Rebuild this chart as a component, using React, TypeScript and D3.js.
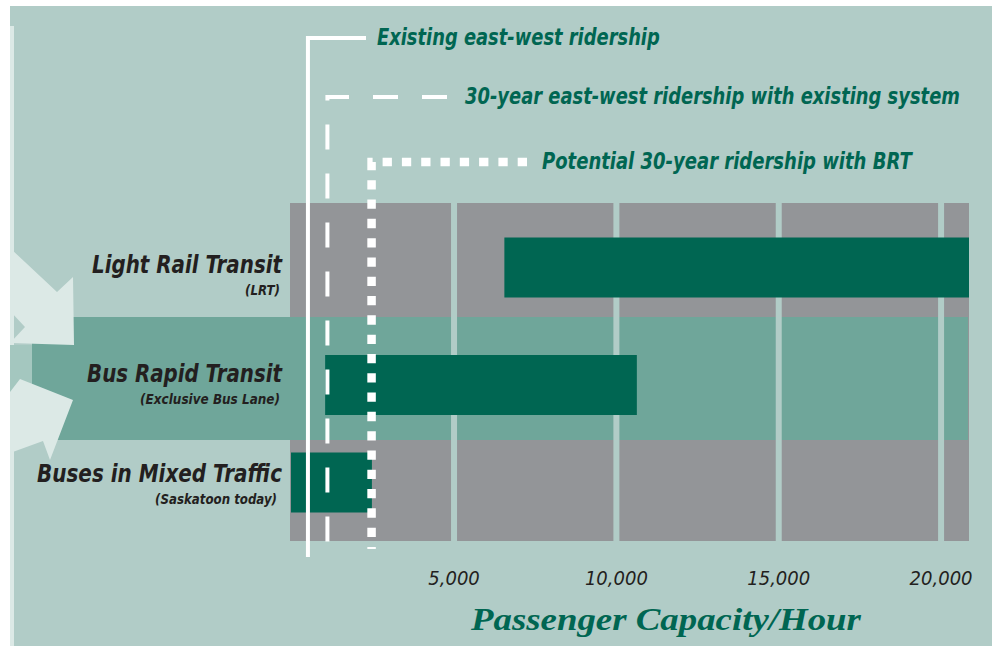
import React, { useLayoutEffect, useRef, useState } from "react";
import * as d3 from "d3";

const categories = ["Light Rail Transit", "Bus Rapid Transit", "Buses in Mixed Traffic"];
const subtitles = ["(LRT)", "(Exclusive Bus Lane)", "(Saskatoon today)"];
const rangeStart = [6550, 1030, 0];
const rangeEnd = [25000, 10630, 2470];
const tickValues = [5000, 10000, 15000, 20000];
const tickLabels = ["5,000", "10,000", "15,000", "20,000"];
const refLabels = [
  "Existing east-west ridership",
  "30-year east-west ridership with existing system",
  "Potential 30-year ridership with BRT",
];
const refValues = [500, 1100, 2460];
const axisTitle = "Passenger Capacity/Hour";
const xMax = 20860;

const BG = "#b1ccc7";
const LIGHT = "#dce9e6";
const GRAY = "#939598";
const BAND = "#6fa69a";
const GREEN = "#006652";
const INK = "#231f20";
const SANS = "'Liberation Sans Narrow', 'DejaVu Sans Condensed', 'Liberation Sans', sans-serif";

type FitProps = {
  x: number;
  y: number;
  width: number;
  anchor?: "start" | "end" | "middle";
  children: string;
  [k: string]: any;
};

function FitText({ x, y, width, anchor = "start", children, ...rest }: FitProps) {
  const ref = useRef<SVGTextElement>(null);
  const [s, setS] = useState(1);
  useLayoutEffect(() => {
    if (ref.current) {
      const w = ref.current.getComputedTextLength();
      if (w > 0) setS(width / w);
    }
  }, [width, children]);
  return (
    <g transform={`translate(${x},${y}) scale(${s},1)`}>
      <text ref={ref} x={0} y={0} textAnchor={anchor} {...rest}>
        {children}
      </text>
    </g>
  );
}

export default function App() {
  const W = 999, H = 646;
  const x = d3.scaleLinear().domain([0, xMax]).range([291.7, 969]);
  const plotTop = 203, plotBottom = 541;
  const rowY = d3.scaleOrdinal<string, number>().domain(categories).range([267.5, 385, 482.5]);
  const titleY = d3.scaleOrdinal<string, number>().domain(categories).range([273, 382, 482]);
  const titleW = [190, 195, 245];
  const subW = [35, 140, 122];
  const subX = [280, 280, 277];
  const barH = 60;

  const refTopY = [38, 97, 162];
  const refBottomY = [557, 552, 549];
  const refTextX = [377, 465, 542];
  const refHEnd = [366, 447, 527];
  const refTextW = [283, 495, 370];
  const refWidth = [4, 4, 8.5];
  const refDash = [null, "25 24", "9.3 10"];

  const up = "10,248 57,292 73,277 74,345 10,343 25,327 10,311";
  const low = "10,392 20,379 73,400 50,460 43,441 10,453";

  return (
    <svg width={W} height={H} style={{ position: "absolute", left: 0, top: 0, display: "block" }}>
      <rect x={0} y={0} width={W} height={H} fill="#ffffff" />
      <rect x={10} y={6} width={982} height={H - 6} fill={BG} />
      <rect x={10} y={26} width={4} height={H - 26} fill={LIGHT} />
      <rect x={290} y={plotTop} width={x(xMax) - 290} height={plotBottom - plotTop} fill={GRAY} />
      <rect x={10} y={345} width={22} height={50} fill="#a4c7bf" />
      <rect x={32} y={317} width={x(xMax) - 1 - 32} height={123} fill={BAND} />
      <polygon points={up} fill={LIGHT} />
      <polygon points={low} fill={LIGHT} />
      {tickValues.map((t) => (
        <rect key={t} x={x(t) - 3} y={plotTop} width={6} height={plotBottom - plotTop} fill={BG} />
      ))}
      {categories.map((c, i) => {
        const x0 = i === 2 ? 291 : x(Math.max(0, rangeStart[i]));
        const x1 = x(Math.min(xMax, rangeEnd[i]));
        return <rect key={c} x={x0} y={rowY(c) - barH / 2} width={x1 - x0} height={barH} fill={GREEN} />;
      })}
      {categories.map((c, i) => (
        <g key={c} fill={INK} fontFamily={SANS} fontWeight="bold" fontStyle="italic">
          <FitText x={282} y={titleY(c)} width={titleW[i]} anchor="end" fontSize={25}>
            {c}
          </FitText>
          <FitText x={subX[i]} y={titleY(c) + 22} width={subW[i]} anchor="end" fontSize={14}>
            {subtitles[i]}
          </FitText>
        </g>
      ))}
      {refValues.map((v, i) => {
        const xv = x(v);
        const p = d3.path();
        p.moveTo(refHEnd[i], refTopY[i]);
        p.lineTo(xv, refTopY[i]);
        p.lineTo(xv, refBottomY[i]);
        return (
          <g key={i}>
            <path
              d={p.toString()}
              fill="none"
              stroke="#ffffff"
              strokeWidth={refWidth[i]}
              strokeDasharray={refDash[i] ?? undefined}
              strokeLinejoin="miter"
            />
            <FitText
              x={refTextX[i]}
              y={refTopY[i] + 7}
              width={refTextW[i]}
              fill={GREEN}
              fontFamily={SANS}
              fontWeight="bold"
              fontStyle="italic"
              fontSize={23}
            >
              {refLabels[i]}
            </FitText>
          </g>
        );
      })}
      {tickValues.map((t, i) => (
        <text key={t} x={x(t)} y={585} textAnchor="middle" fill={INK} fontFamily={SANS} fontStyle="italic" fontSize={20}>
          {tickLabels[i]}
        </text>
      ))}
      <FitText
        x={471}
        y={630}
        width={390}
        fill={GREEN}
        fontFamily="'Liberation Serif', 'DejaVu Serif', serif"
        fontWeight="bold"
        fontStyle="italic"
        fontSize={32}
      >
        {axisTitle}
      </FitText>
    </svg>
  );
}
